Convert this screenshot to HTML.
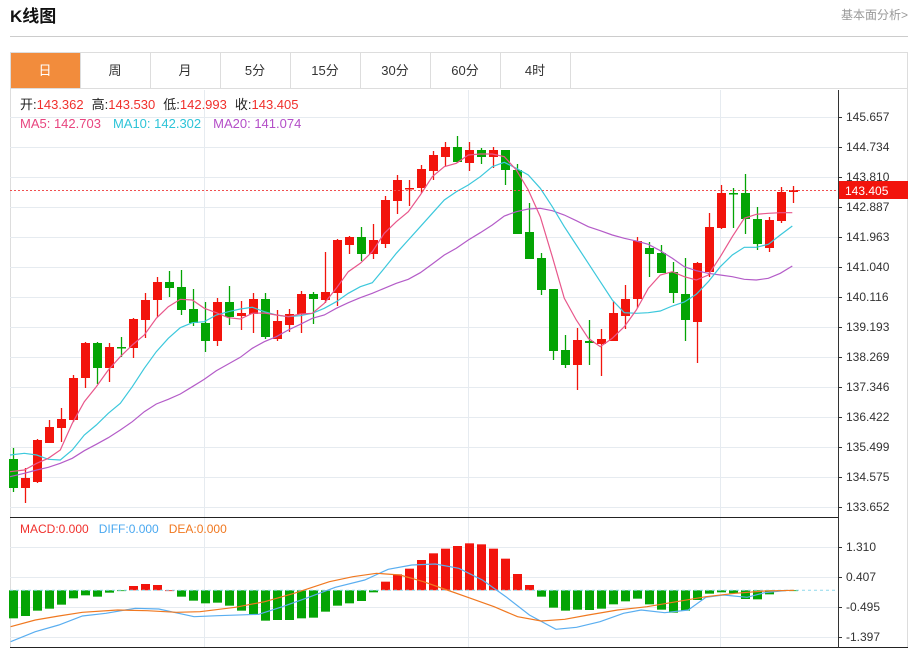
<!DOCTYPE html>
<html><head><meta charset="utf-8"><style>
body{margin:0;background:#fff;width:918px;height:648px;overflow:hidden;font-family:"Liberation Sans","Noto Sans CJK SC",sans-serif}
</style></head><body>
<svg id="s" width="918" height="648" xmlns="http://www.w3.org/2000/svg" style="position:absolute;left:0;top:0;font-family:'Liberation Sans','Noto Sans CJK SC',sans-serif">
<text x="10" y="22" font-size="17" font-weight="bold" fill="#111">K线图</text>
<text x="908" y="19" font-size="12" fill="#999" text-anchor="end">基本面分析&gt;</text>
<line x1="10" y1="36.5" x2="908" y2="36.5" stroke="#ccc"/>
<rect x="10.5" y="52.5" width="897" height="595" fill="none" stroke="#ddd"/>
<line x1="10" y1="88.5" x2="908" y2="88.5" stroke="#ddd"/>
<rect x="11" y="53" width="69" height="35" fill="#f28c3c"/>
<g id="tabs" font-size="13" text-anchor="middle" fill="#333"></g>
<g id="grid"></g>
<g id="main"></g>
<g id="macd"></g>
<line x1="10" y1="517.5" x2="838" y2="517.5" stroke="#222"/>
<line x1="10" y1="647.5" x2="908" y2="647.5" stroke="#222"/>
<line x1="838.5" y1="90" x2="838.5" y2="648" stroke="#333"/>
<line x1="10" y1="190.5" x2="838" y2="190.5" stroke="#f05050" stroke-dasharray="2,2"/>
<rect x="839" y="181" width="69" height="18" fill="#f2140c"/>
<text x="845" y="195" font-size="12" fill="#fff">143.405</text>
<text x="20" y="109" font-size="13"><tspan fill="#222">开:</tspan><tspan fill="#f0302c">143.362</tspan><tspan fill="#222" dx="8">高:</tspan><tspan fill="#f0302c">143.530</tspan><tspan fill="#222" dx="8">低:</tspan><tspan fill="#f0302c">142.993</tspan><tspan fill="#222" dx="8">收:</tspan><tspan fill="#f0302c">143.405</tspan></text>
<text x="20" y="128" font-size="13"><tspan fill="#e8457f">MA5: 142.703</tspan><tspan fill="#2ec4d8" dx="12">MA10: 142.302</tspan><tspan fill="#b44fc8" dx="12">MA20: 141.074</tspan></text>
<text x="20" y="533" font-size="12"><tspan fill="#f0302c">MACD:0.000</tspan><tspan fill="#4aa8f0" dx="10">DIFF:0.000</tspan><tspan fill="#f07820" dx="10">DEA:0.000</tspan></text>
</svg>
<script>
var NS='http://www.w3.org/2000/svg';
function el(p,t,a,txt){var e=document.createElementNS(NS,t);for(var k in a)e.setAttribute(k,a[k]);if(txt)e.textContent=txt;document.getElementById(p).appendChild(e);return e;}
var tabs=['日','周','月','5分','15分','30分','60分','4时'];
tabs.forEach(function(t,i){var x=10+70*i;el('tabs','text',{x:x+35,y:75,fill:i==0?'#fff':'#333'},t);el('tabs','line',{x1:x+70.5,y1:52,x2:x+70.5,y2:88,stroke:'#ddd'});});
var labs=['145.657','144.734','143.810','142.887','141.963','141.040','140.116','139.193','138.269','137.346','136.422','135.499','134.575','133.652'];
for(var k=0;k<14;k++){var y=117+30*k;el('grid','line',{x1:10,y1:y+.5,x2:838,y2:y+.5,stroke:'#e6ebf0'});el('grid','line',{x1:838,y1:y+.5,x2:842,y2:y+.5,stroke:'#333'});el('grid','text',{x:846,y:y+4,'font-size':12,fill:'#333'},labs[k]);}
var ml=['1.310','0.407','-0.495','-1.397'];
for(k=0;k<4;k++){y=547+30*k;el('grid','line',{x1:10,y1:y+.5,x2:838,y2:y+.5,stroke:'#e6ebf0'});el('grid','line',{x1:838,y1:y+.5,x2:842,y2:y+.5,stroke:'#333'});el('grid','text',{x:846,y:y+4,'font-size':12,fill:'#333'},ml[k]);}
[204,468,720].forEach(function(x){el('grid','line',{x1:x+.5,y1:90,x2:x+.5,y2:648,stroke:'#e6ebf0'});});
// candles: [bodyTop,bodyBot,wickTop,wickBot,color r/g]
var C=[[459,488,448,492,'g'],[478,488,468,503,'r'],[440,482,439,483,'r'],[427,443,420,443,'r'],[419,428,408,442,'r'],[378,420,375,422,'r'],[343,378,342,388,'r'],[343,368,342,384,'g'],[347,368,343,382,'r'],[347,348,337,357,'g'],[319,348,318,358,'r'],[300,320,293,338,'r'],[282,300,277,317,'r'],[282,288,271,297,'g'],[287,310,270,315,'g'],[309,323,289,326,'g'],[323,341,302,352,'g'],[302,341,298,346,'r'],[302,317,286,325,'g'],[313,316,301,330,'r'],[299,314,293,333,'r'],[299,337,293,339,'g'],[321,339,310,341,'r'],[314,325,309,332,'r'],[294,314,291,333,'r'],[294,299,292,324,'g'],[292,300,252,303,'r'],[240,293,239,306,'r'],[237,245,236,254,'r'],[237,254,227,261,'g'],[240,254,224,259,'r'],[200,244,196,248,'r'],[180,201,175,214,'r'],[188,189,180,206,'r'],[169,188,165,193,'r'],[155,171,151,180,'r'],[147,157,142,166,'r'],[147,162,136,163,'g'],
[150,163,142,171,'r'],[150,157,148,164,'g'],[150,157,147,168,'r'],[150,170,150,185,'g'],[170,234,164,234,'g'],[232,259,203,259,'g'],[258,290,253,295,'g'],[289,351,289,360,'g'],[350,365,335,368,'g'],[340,365,328,390,'r'],[341,343,320,365,'g'],[339,344,329,376,'r'],[313,341,301,341,'r'],[299,316,285,329,'r'],[241,299,237,308,'r'],[248,254,242,277,'g'],[253,273,245,273,'g'],[272,293,262,303,'g'],[294,320,258,341,'g'],[263,322,262,363,'r'],[227,272,213,277,'r'],[193,228,185,229,'r'],[193,194,188,228,'g'],[193,219,174,234,'g'],[219,244,207,250,'g'],[220,248,217,252,'r'],[192,221,187,223,'r'],[190,192,186,203,'r']];
C.forEach(function(c,i){var x=13+12*i;var col=c[4]=='r'?'#f2140c':'#04a404';el('main','line',{x1:x+.5,y1:c[2],x2:x+.5,y2:c[3],stroke:col,'stroke-width':1.3});el('main','rect',{x:x-4,y:c[0],width:9,height:Math.max(1.5,c[1]-c[0]),fill:col});});
function pl(g,pts,col,w){el(g,'polyline',{points:pts.map(function(p){return p[0].toFixed(1)+','+p[1].toFixed(1)}).join(' '),fill:'none',stroke:col,'stroke-width':w||1.2});}
function cv(a,b){var r=[];a.forEach(function(p){r.push([p[0]/3,130+p[1]/3]);});b.forEach(function(p){r.push([460+p[0]/3,130+p[1]/3]);});return r;}
var ma5=cv([[30,1025],[73,1020],[110,1000],[145,985],[181,960],[217,880],[253,815],[289,770],[325,720],[361,680],[397,645],[433,615],[469,565],[505,530],[541,508],[577,510],[613,535],[649,548],[685,563],[721,567],[757,550],[793,549],[829,555],[865,560],[901,552],[937,550],[973,520],[1009,475],[1045,425],[1081,400],[1117,365],[1153,310],[1189,275],[1225,245],[1261,195],[1297,140],[1333,110],[1369,100]],[[25,75],[61,72],[97,72],[133,80],[169,120],[205,180],[241,260],[277,380],[313,505],[349,570],[385,625],[421,650],[457,625],[493,590],[529,540],[565,475],[601,435],[637,425],[673,440],[709,450],[745,435],[781,380],[817,320],[853,265],[889,253],[925,250],[961,248],[997,248]]);
var ma10=cv([[30,975],[73,970],[110,975],[145,988],[181,990],[217,960],[253,915],[289,885],[325,850],[361,820],[397,770],[433,715],[469,665],[505,625],[541,593],[577,578],[613,575],[649,555],[685,545],[721,537],[757,532],[793,545],[829,555],[865,560],[901,557],[937,550],[973,535],[1009,515],[1045,490],[1081,470],[1117,458],[1153,415],[1189,370],[1225,330],[1261,290],[1297,250],[1333,210],[1369,185]],[[25,165],[61,140],[97,110],[133,97],[169,115],[205,135],[241,175],[277,230],[313,290],[349,345],[385,400],[421,455],[457,510],[493,548],[529,550],[565,548],[601,543],[637,528],[673,516],[709,493],[745,455],[781,410],[817,375],[853,352],[889,352],[925,343],[961,315],[997,288]]);
var ma20=cv([[30,1040],[73,1030],[110,1020],[145,1012],[181,1000],[217,985],[253,962],[289,943],[325,923],[361,900],[397,875],[433,845],[469,822],[505,808],[541,792],[577,770],[613,748],[649,722],[685,702],[721,682],[757,655],[793,635],[829,620],[865,600],[901,583],[937,565],[973,555],[1009,535],[1045,518],[1081,503],[1117,490],[1153,475],[1189,460],[1225,448],[1261,428],[1297,402],[1333,375],[1369,355]],[[25,330],[61,308],[97,285],[133,258],[169,245],[205,237],[241,235],[277,242],[313,255],[349,272],[385,290],[421,302],[457,315],[493,325],[529,333],[565,343],[601,362],[637,385],[673,410],[709,422],[745,430],[781,435],[817,440],[853,448],[889,450],[925,445],[961,430],[997,408]]);
pl('main',ma20,'#b45cc8');pl('main',ma10,'#3cc8dc');pl('main',ma5,'#e8578b');
// MACD
var Z=590.3;
var B=[325,318,302,296,284,265,256,260,248,243,228,222,225,243,260,272,280,278,287,302,313,332,330,330,325,323,305,287,280,273,247,215,193,176,150,130,116,108,100,103,116,146,192,225,260,293,302,299,300,296,283,274,266,283,299,308,302,270,251,247,250,267,268,253,243,241.5];
B.forEach(function(b,i){var x=13+12*i;var y=510+b/3;var up=y<Z;if(i==13)up=false;var col=(i>=10&&i<=13)||(i>=31&&i<=43)?'#f2140c':'#04a404';el('macd','rect',{x:x-4,y:Math.min(y,Z),width:9,height:Math.max(0.8,Math.abs(y-Z)),fill:col});});
el('macd','line',{x1:10,y1:Z,x2:838,y2:Z,stroke:'#8fd8ec','stroke-dasharray':'3,3'});
function cm(a){return a.map(function(p){return [p[0]/1.7,510+p[1]/3];});}
pl('macd',cm([[18,395],[60,365],[100,345],[140,318],[180,310],[230,295],[270,297],[330,320],[370,317],[440,313],[480,290],[520,265],[570,232],[620,210],[660,178],[700,165],[740,162],[780,175],[820,210],[860,260],[900,315],[945,358],[980,352],[1020,335],[1060,310],[1090,300],[1130,308],[1170,300],[1200,262],[1230,255],[1270,262],[1300,248],[1340,241]]),'#5aaef0');
pl('macd',cm([[18,350],[60,330],[100,318],[140,307],[200,300],[250,302],[300,307],[340,305],[400,292],[450,275],[500,250],[560,215],[600,200],[640,190],[680,195],[720,215],[760,240],[800,265],[840,290],[880,320],[920,333],[960,328],[1000,315],[1050,300],[1100,290],[1150,275],[1200,260],[1250,250],[1300,243],[1350,241]]),'#f07820');
</script>
</body></html>
